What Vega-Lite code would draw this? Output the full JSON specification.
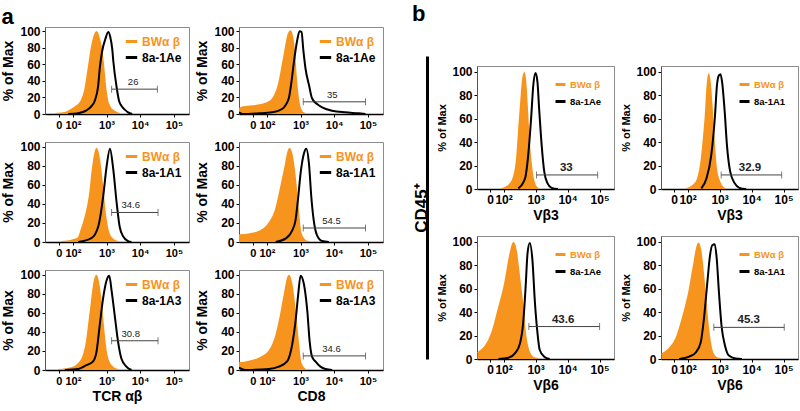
{
"$schema": "https://vega.github.io/schema/vega-lite/v6.json",
"background": "white",
"padding": {"left": 1, "top": 2, "right": 4, "bottom": 4},
"datasets": {
"hist": [
{"p":"a1","s":"BWα β","x":1.47,"y":0},{"p":"a1","s":"BWα β","x":1.76,"y":1.2},{"p":"a1","s":"BWα β","x":1.91,"y":4},{"p":"a1","s":"BWα β","x":2.1,"y":9},{"p":"a1","s":"BWα β","x":2.26,"y":16},{"p":"a1","s":"BWα β","x":2.36,"y":28},{"p":"a1","s":"BWα β","x":2.47,"y":56},{"p":"a1","s":"BWα β","x":2.57,"y":82},{"p":"a1","s":"BWα β","x":2.7,"y":99},{"p":"a1","s":"BWα β","x":2.78,"y":90},{"p":"a1","s":"BWα β","x":2.85,"y":76},{"p":"a1","s":"BWα β","x":2.9,"y":58},{"p":"a1","s":"BWα β","x":2.95,"y":36},{"p":"a1","s":"BWα β","x":3.02,"y":16},{"p":"a1","s":"BWα β","x":3.1,"y":8},{"p":"a1","s":"BWα β","x":3.23,"y":3},{"p":"a1","s":"BWα β","x":3.39,"y":0},
{"p":"a1","s":"8a-1Ae","x":1.86,"y":0},{"p":"a1","s":"8a-1Ae","x":2.16,"y":1},{"p":"a1","s":"8a-1Ae","x":2.39,"y":4},{"p":"a1","s":"8a-1Ae","x":2.54,"y":9},{"p":"a1","s":"8a-1Ae","x":2.65,"y":16},{"p":"a1","s":"8a-1Ae","x":2.75,"y":34},{"p":"a1","s":"8a-1Ae","x":2.8,"y":56},{"p":"a1","s":"8a-1Ae","x":2.87,"y":76},{"p":"a1","s":"8a-1Ae","x":2.96,"y":90},{"p":"a1","s":"8a-1Ae","x":3.05,"y":99},{"p":"a1","s":"8a-1Ae","x":3.11,"y":93},{"p":"a1","s":"8a-1Ae","x":3.17,"y":78},{"p":"a1","s":"8a-1Ae","x":3.2,"y":64},{"p":"a1","s":"8a-1Ae","x":3.3,"y":32},{"p":"a1","s":"8a-1Ae","x":3.37,"y":16},{"p":"a1","s":"8a-1Ae","x":3.44,"y":10},{"p":"a1","s":"8a-1Ae","x":3.55,"y":5},{"p":"a1","s":"8a-1Ae","x":3.64,"y":2},{"p":"a1","s":"8a-1Ae","x":3.76,"y":0},
{"p":"a2","s":"BWα β","x":1.17,"y":5.8},{"p":"a2","s":"BWα β","x":1.27,"y":7.8},{"p":"a2","s":"BWα β","x":1.66,"y":9.7},{"p":"a2","s":"BWα β","x":1.96,"y":12.4},{"p":"a2","s":"BWα β","x":2.16,"y":17.4},{"p":"a2","s":"BWα β","x":2.35,"y":35},{"p":"a2","s":"BWα β","x":2.5,"y":66},{"p":"a2","s":"BWα β","x":2.65,"y":97},{"p":"a2","s":"BWα β","x":2.7,"y":100},{"p":"a2","s":"BWα β","x":2.8,"y":78},{"p":"a2","s":"BWα β","x":2.87,"y":39},{"p":"a2","s":"BWα β","x":2.95,"y":12},{"p":"a2","s":"BWα β","x":3.05,"y":2},{"p":"a2","s":"BWα β","x":3.15,"y":0},
{"p":"a2","s":"8a-1Ae","x":1.17,"y":2},{"p":"a2","s":"8a-1Ae","x":1.27,"y":0},{"p":"a2","s":"8a-1Ae","x":1.76,"y":0.8},{"p":"a2","s":"8a-1Ae","x":2.16,"y":2},{"p":"a2","s":"8a-1Ae","x":2.45,"y":6},{"p":"a2","s":"8a-1Ae","x":2.65,"y":19},{"p":"a2","s":"8a-1Ae","x":2.73,"y":39},{"p":"a2","s":"8a-1Ae","x":2.8,"y":62},{"p":"a2","s":"8a-1Ae","x":2.9,"y":89},{"p":"a2","s":"8a-1Ae","x":2.97,"y":100},{"p":"a2","s":"8a-1Ae","x":3.03,"y":99},{"p":"a2","s":"8a-1Ae","x":3.08,"y":78},{"p":"a2","s":"8a-1Ae","x":3.15,"y":54},{"p":"a2","s":"8a-1Ae","x":3.25,"y":35},{"p":"a2","s":"8a-1Ae","x":3.34,"y":19},{"p":"a2","s":"8a-1Ae","x":3.49,"y":12},{"p":"a2","s":"8a-1Ae","x":3.64,"y":8},{"p":"a2","s":"8a-1Ae","x":3.94,"y":4},{"p":"a2","s":"8a-1Ae","x":4.33,"y":2},{"p":"a2","s":"8a-1Ae","x":4.73,"y":0.8},{"p":"a2","s":"8a-1Ae","x":4.93,"y":0},
{"p":"a3","s":"BWα β","x":1.66,"y":0},{"p":"a3","s":"BWα β","x":1.96,"y":1.4},{"p":"a3","s":"BWα β","x":2.16,"y":4},{"p":"a3","s":"BWα β","x":2.26,"y":13},{"p":"a3","s":"BWα β","x":2.38,"y":27},{"p":"a3","s":"BWα β","x":2.5,"y":48},{"p":"a3","s":"BWα β","x":2.6,"y":79},{"p":"a3","s":"BWα β","x":2.7,"y":98},{"p":"a3","s":"BWα β","x":2.78,"y":86},{"p":"a3","s":"BWα β","x":2.85,"y":65},{"p":"a3","s":"BWα β","x":2.95,"y":30},{"p":"a3","s":"BWα β","x":3.03,"y":13},{"p":"a3","s":"BWα β","x":3.1,"y":6},{"p":"a3","s":"BWα β","x":3.2,"y":2},{"p":"a3","s":"BWα β","x":3.34,"y":0},
{"p":"a3","s":"8a-1A1","x":2.16,"y":0},{"p":"a3","s":"8a-1A1","x":2.55,"y":4},{"p":"a3","s":"8a-1A1","x":2.75,"y":16},{"p":"a3","s":"8a-1A1","x":2.9,"y":48},{"p":"a3","s":"8a-1A1","x":3.0,"y":79},{"p":"a3","s":"8a-1A1","x":3.1,"y":98},{"p":"a3","s":"8a-1A1","x":3.2,"y":76},{"p":"a3","s":"8a-1A1","x":3.3,"y":41},{"p":"a3","s":"8a-1A1","x":3.39,"y":16},{"p":"a3","s":"8a-1A1","x":3.49,"y":6},{"p":"a3","s":"8a-1A1","x":3.64,"y":1},{"p":"a3","s":"8a-1A1","x":3.74,"y":0},
{"p":"a4","s":"BWα β","x":1.17,"y":7},{"p":"a4","s":"BWα β","x":1.46,"y":8},{"p":"a4","s":"BWα β","x":1.76,"y":10.5},{"p":"a4","s":"BWα β","x":2.06,"y":19},{"p":"a4","s":"BWα β","x":2.26,"y":33},{"p":"a4","s":"BWα β","x":2.4,"y":54},{"p":"a4","s":"BWα β","x":2.55,"y":79},{"p":"a4","s":"BWα β","x":2.67,"y":98},{"p":"a4","s":"BWα β","x":2.75,"y":89},{"p":"a4","s":"BWα β","x":2.85,"y":61},{"p":"a4","s":"BWα β","x":2.93,"y":30},{"p":"a4","s":"BWα β","x":3.0,"y":9},{"p":"a4","s":"BWα β","x":3.15,"y":1},{"p":"a4","s":"BWα β","x":3.25,"y":0},
{"p":"a4","s":"8a-1A1","x":2.26,"y":0},{"p":"a4","s":"8a-1A1","x":2.55,"y":3.5},{"p":"a4","s":"8a-1A1","x":2.75,"y":12},{"p":"a4","s":"8a-1A1","x":2.85,"y":23},{"p":"a4","s":"8a-1A1","x":2.93,"y":47},{"p":"a4","s":"8a-1A1","x":3.0,"y":72},{"p":"a4","s":"8a-1A1","x":3.1,"y":93},{"p":"a4","s":"8a-1A1","x":3.17,"y":98},{"p":"a4","s":"8a-1A1","x":3.25,"y":82},{"p":"a4","s":"8a-1A1","x":3.32,"y":47},{"p":"a4","s":"8a-1A1","x":3.39,"y":23},{"p":"a4","s":"8a-1A1","x":3.49,"y":7},{"p":"a4","s":"8a-1A1","x":3.64,"y":1},{"p":"a4","s":"8a-1A1","x":3.84,"y":0},
{"p":"a5","s":"BWα β","x":1.56,"y":0},{"p":"a5","s":"BWα β","x":1.96,"y":2},{"p":"a5","s":"BWα β","x":2.26,"y":10.6},{"p":"a5","s":"BWα β","x":2.4,"y":26.5},{"p":"a5","s":"BWα β","x":2.53,"y":62},{"p":"a5","s":"BWα β","x":2.65,"y":94},{"p":"a5","s":"BWα β","x":2.7,"y":99},{"p":"a5","s":"BWα β","x":2.8,"y":79.5},{"p":"a5","s":"BWα β","x":2.87,"y":55},{"p":"a5","s":"BWα β","x":2.95,"y":26.5},{"p":"a5","s":"BWα β","x":3.05,"y":9},{"p":"a5","s":"BWα β","x":3.2,"y":2},{"p":"a5","s":"BWα β","x":3.34,"y":0},
{"p":"a5","s":"8a-1A3","x":1.76,"y":0},{"p":"a5","s":"8a-1A3","x":2.16,"y":1},{"p":"a5","s":"8a-1A3","x":2.4,"y":5},{"p":"a5","s":"8a-1A3","x":2.6,"y":9},{"p":"a5","s":"8a-1A3","x":2.7,"y":19},{"p":"a5","s":"8a-1A3","x":2.8,"y":48},{"p":"a5","s":"8a-1A3","x":2.9,"y":76},{"p":"a5","s":"8a-1A3","x":3.0,"y":94},{"p":"a5","s":"8a-1A3","x":3.08,"y":99},{"p":"a5","s":"8a-1A3","x":3.15,"y":83},{"p":"a5","s":"8a-1A3","x":3.25,"y":55},{"p":"a5","s":"8a-1A3","x":3.34,"y":30},{"p":"a5","s":"8a-1A3","x":3.44,"y":12},{"p":"a5","s":"8a-1A3","x":3.59,"y":3.5},{"p":"a5","s":"8a-1A3","x":3.74,"y":0},
{"p":"a6","s":"BWα β","x":1.17,"y":7},{"p":"a6","s":"BWα β","x":1.76,"y":12},{"p":"a6","s":"BWα β","x":2.06,"y":19},{"p":"a6","s":"BWα β","x":2.26,"y":34},{"p":"a6","s":"BWα β","x":2.4,"y":55},{"p":"a6","s":"BWα β","x":2.53,"y":79.5},{"p":"a6","s":"BWα β","x":2.65,"y":99},{"p":"a6","s":"BWα β","x":2.73,"y":90},{"p":"a6","s":"BWα β","x":2.83,"y":62},{"p":"a6","s":"BWα β","x":2.93,"y":26.5},{"p":"a6","s":"BWα β","x":3.0,"y":7},{"p":"a6","s":"BWα β","x":3.15,"y":0},
{"p":"a6","s":"8a-1A3","x":1.17,"y":2.5},{"p":"a6","s":"8a-1A3","x":1.36,"y":0},{"p":"a6","s":"8a-1A3","x":2.06,"y":1},{"p":"a6","s":"8a-1A3","x":2.35,"y":3.5},{"p":"a6","s":"8a-1A3","x":2.6,"y":9},{"p":"a6","s":"8a-1A3","x":2.75,"y":26.5},{"p":"a6","s":"8a-1A3","x":2.85,"y":51},{"p":"a6","s":"8a-1A3","x":2.93,"y":79.5},{"p":"a6","s":"8a-1A3","x":3.0,"y":99},{"p":"a6","s":"8a-1A3","x":3.1,"y":90},{"p":"a6","s":"8a-1A3","x":3.2,"y":62},{"p":"a6","s":"8a-1A3","x":3.27,"y":30},{"p":"a6","s":"8a-1A3","x":3.34,"y":14},{"p":"a6","s":"8a-1A3","x":3.44,"y":9},{"p":"a6","s":"8a-1A3","x":3.59,"y":3.5},{"p":"a6","s":"8a-1A3","x":3.74,"y":1},{"p":"a6","s":"8a-1A3","x":3.94,"y":0},
{"p":"b1","s":"BWα β","x":1.95,"y":0},{"p":"b1","s":"BWα β","x":2.05,"y":1},{"p":"b1","s":"BWα β","x":2.26,"y":6},{"p":"b1","s":"BWα β","x":2.41,"y":23},{"p":"b1","s":"BWα β","x":2.51,"y":60},{"p":"b1","s":"BWα β","x":2.65,"y":99},{"p":"b1","s":"BWα β","x":2.72,"y":74},{"p":"b1","s":"BWα β","x":2.79,"y":40},{"p":"b1","s":"BWα β","x":2.88,"y":15},{"p":"b1","s":"BWα β","x":2.98,"y":3},{"p":"b1","s":"BWα β","x":3.08,"y":0},
{"p":"b1","s":"8a-1Ae","x":2.46,"y":0.5},{"p":"b1","s":"8a-1Ae","x":2.67,"y":9},{"p":"b1","s":"8a-1Ae","x":2.77,"y":29},{"p":"b1","s":"8a-1Ae","x":2.86,"y":60},{"p":"b1","s":"8a-1Ae","x":2.93,"y":89},{"p":"b1","s":"8a-1Ae","x":3.0,"y":99},{"p":"b1","s":"8a-1Ae","x":3.06,"y":91},{"p":"b1","s":"8a-1Ae","x":3.11,"y":69},{"p":"b1","s":"8a-1Ae","x":3.19,"y":37.5},{"p":"b1","s":"8a-1Ae","x":3.27,"y":15},{"p":"b1","s":"8a-1Ae","x":3.37,"y":5},{"p":"b1","s":"8a-1Ae","x":3.5,"y":1},{"p":"b1","s":"8a-1Ae","x":3.7,"y":0},
{"p":"b2","s":"BWα β","x":1.97,"y":0},{"p":"b2","s":"BWα β","x":2.07,"y":1},{"p":"b2","s":"BWα β","x":2.28,"y":6},{"p":"b2","s":"BWα β","x":2.43,"y":23},{"p":"b2","s":"BWα β","x":2.56,"y":60},{"p":"b2","s":"BWα β","x":2.66,"y":98},{"p":"b2","s":"BWα β","x":2.74,"y":75},{"p":"b2","s":"BWα β","x":2.82,"y":40},{"p":"b2","s":"BWα β","x":2.9,"y":15},{"p":"b2","s":"BWα β","x":3.05,"y":3},{"p":"b2","s":"BWα β","x":3.16,"y":0},
{"p":"b2","s":"8a-1A1","x":2.43,"y":0.5},{"p":"b2","s":"8a-1A1","x":2.59,"y":9},{"p":"b2","s":"8a-1A1","x":2.74,"y":29},{"p":"b2","s":"8a-1A1","x":2.85,"y":60},{"p":"b2","s":"8a-1A1","x":2.92,"y":89},{"p":"b2","s":"8a-1A1","x":2.98,"y":97},{"p":"b2","s":"8a-1A1","x":3.03,"y":98},{"p":"b2","s":"8a-1A1","x":3.08,"y":91},{"p":"b2","s":"8a-1A1","x":3.16,"y":66},{"p":"b2","s":"8a-1A1","x":3.23,"y":37.5},{"p":"b2","s":"8a-1A1","x":3.33,"y":15},{"p":"b2","s":"8a-1A1","x":3.47,"y":5},{"p":"b2","s":"8a-1A1","x":3.62,"y":1},{"p":"b2","s":"8a-1A1","x":3.83,"y":0},
{"p":"b3","s":"BWα β","x":1.19,"y":5},{"p":"b3","s":"BWα β","x":1.43,"y":10.6},{"p":"b3","s":"BWα β","x":1.64,"y":22},{"p":"b3","s":"BWα β","x":1.84,"y":42},{"p":"b3","s":"BWα β","x":2.05,"y":65},{"p":"b3","s":"BWα β","x":2.2,"y":88},{"p":"b3","s":"BWα β","x":2.31,"y":99},{"p":"b3","s":"BWα β","x":2.38,"y":93},{"p":"b3","s":"BWα β","x":2.46,"y":76},{"p":"b3","s":"BWα β","x":2.57,"y":50.6},{"p":"b3","s":"BWα β","x":2.67,"y":22},{"p":"b3","s":"BWα β","x":2.77,"y":7.7},{"p":"b3","s":"BWα β","x":2.93,"y":1},{"p":"b3","s":"BWα β","x":3.08,"y":0},
{"p":"b3","s":"8a-1Ae","x":1.84,"y":0},{"p":"b3","s":"8a-1Ae","x":2.15,"y":1},{"p":"b3","s":"8a-1Ae","x":2.36,"y":5},{"p":"b3","s":"8a-1Ae","x":2.51,"y":13},{"p":"b3","s":"8a-1Ae","x":2.62,"y":33},{"p":"b3","s":"8a-1Ae","x":2.69,"y":62},{"p":"b3","s":"8a-1Ae","x":2.75,"y":90.6},{"p":"b3","s":"8a-1Ae","x":2.82,"y":99},{"p":"b3","s":"8a-1Ae","x":2.9,"y":85},{"p":"b3","s":"8a-1Ae","x":2.98,"y":48},{"p":"b3","s":"8a-1Ae","x":3.06,"y":22},{"p":"b3","s":"8a-1Ae","x":3.13,"y":7.7},{"p":"b3","s":"8a-1Ae","x":3.27,"y":2},{"p":"b3","s":"8a-1Ae","x":3.44,"y":0},
{"p":"b4","s":"BWα β","x":1.19,"y":4},{"p":"b4","s":"BWα β","x":1.43,"y":8.6},{"p":"b4","s":"BWα β","x":1.64,"y":17},{"p":"b4","s":"BWα β","x":1.84,"y":34},{"p":"b4","s":"BWα β","x":2.05,"y":57},{"p":"b4","s":"BWα β","x":2.2,"y":80},{"p":"b4","s":"BWα β","x":2.34,"y":98.6},{"p":"b4","s":"BWα β","x":2.41,"y":91},{"p":"b4","s":"BWα β","x":2.48,"y":74},{"p":"b4","s":"BWα β","x":2.57,"y":46},{"p":"b4","s":"BWα β","x":2.67,"y":20},{"p":"b4","s":"BWα β","x":2.77,"y":5.7},{"p":"b4","s":"BWα β","x":2.93,"y":0.5},{"p":"b4","s":"BWα β","x":3.03,"y":0},
{"p":"b4","s":"8a-1A1","x":1.74,"y":0},{"p":"b4","s":"8a-1A1","x":2.05,"y":2},{"p":"b4","s":"8a-1A1","x":2.26,"y":5.7},{"p":"b4","s":"8a-1A1","x":2.41,"y":14},{"p":"b4","s":"8a-1A1","x":2.51,"y":34},{"p":"b4","s":"8a-1A1","x":2.62,"y":66},{"p":"b4","s":"8a-1A1","x":2.69,"y":86},{"p":"b4","s":"8a-1A1","x":2.77,"y":97},{"p":"b4","s":"8a-1A1","x":2.85,"y":98},{"p":"b4","s":"8a-1A1","x":2.91,"y":86},{"p":"b4","s":"8a-1A1","x":2.98,"y":57},{"p":"b4","s":"8a-1A1","x":3.06,"y":28.6},{"p":"b4","s":"8a-1A1","x":3.17,"y":11.4},{"p":"b4","s":"8a-1A1","x":3.29,"y":3},{"p":"b4","s":"8a-1A1","x":3.5,"y":0.5},{"p":"b4","s":"8a-1A1","x":3.7,"y":0}
],
"gates": [
{"p":"a1","x":3.15,"x2":4.51,"y":30,"lx":3.79,"lab":"26"},
{"p":"a2","x":3.08,"x2":4.93,"y":14.7,"lx":3.94,"lab":"35"},
{"p":"a3","x":3.15,"x2":4.53,"y":31,"lx":3.72,"lab":"34.6"},
{"p":"a4","x":3.08,"x2":4.93,"y":14.7,"lx":3.92,"lab":"54.5"},
{"p":"a5","x":3.15,"x2":4.53,"y":30.7,"lx":3.72,"lab":"30.8"},
{"p":"a6","x":3.08,"x2":4.93,"y":14.8,"lx":3.92,"lab":"34.6"},
{"p":"b1","x":3.03,"x2":4.94,"y":12,"lx":3.96,"lab":"33"},
{"p":"b2","x":3.05,"x2":4.94,"y":12,"lx":3.95,"lab":"32.9"},
{"p":"b3","x":2.79,"x2":5.0,"y":27.7,"lx":3.86,"lab":"43.6"},
{"p":"b4","x":2.82,"x2":5.02,"y":27,"lx":3.91,"lab":"45.3"}
]
},
"hconcat": [
{
"title": {"text": "a", "anchor": "start", "frame": "bounds", "fontSize": 22, "fontWeight": "bold", "offset": -4},
"spacing": 9,
"resolve": {"scale": {"stroke": "independent"}, "legend": {"stroke": "independent"}},
"vconcat": [
{"spacing": 5, "resolve": {"scale": {"stroke": "independent"}, "legend": {"stroke": "independent"}}, "hconcat": [
{"width": 144, "height": 87,
"encoding": {"x": {"field": "x", "type": "quantitative", "scale": {"domain": [1.17, 5.45], "nice": false, "zero": false}, "axis": {"title": null, "values": [1.58, 2, 3, 4, 5], "labelOverlap": false}}, "y": {"field": "y", "type": "quantitative", "scale": {"domain": [0, 105], "nice": false}, "axis": {"title": "% of Max", "values": [0, 20, 40, 60, 80, 100]}}},
"layer": [
{"data": {"name": "hist"}, "transform": [{"filter": "datum.p == 'a1' && datum.s == 'BWα β'"}], "mark": {"type": "area", "color": "#F7941D", "interpolate": "monotone", "clip": true}},
{"data": {"name": "hist"}, "transform": [{"filter": "datum.p == 'a1'"}], "mark": {"type": "line", "strokeWidth": 2, "interpolate": "monotone", "clip": true}, "encoding": {"stroke": {"field": "s", "type": "nominal", "scale": {"domain": ["BWα β", "8a-1Ae"], "range": ["#F7941D", "#000000"]}, "legend": {"title": null, "offset": 7, "labelFontSize": 12, "encode": {"labels": {"update": {"fill": {"signal": "datum.label == 'BWα β' ? '#F7941D' : '#000000'"}}}}}}}},
{"data": {"name": "gates"}, "transform": [{"filter": "datum.p == 'a1'"}], "mark": {"type": "rule", "color": "#444444", "strokeWidth": 1}, "encoding": {"x2": {"field": "x2"}}},
{"data": {"name": "gates"}, "transform": [{"filter": "datum.p == 'a1'"}], "mark": {"type": "tick", "orient": "vertical", "color": "#444444", "thickness": 1, "size": 7}},
{"data": {"name": "gates"}, "transform": [{"filter": "datum.p == 'a1'"}], "mark": {"type": "tick", "orient": "vertical", "color": "#444444", "thickness": 1, "size": 7}, "encoding": {"x": {"field": "x2", "type": "quantitative"}}},
{"data": {"name": "gates"}, "transform": [{"filter": "datum.p == 'a1'"}], "mark": {"type": "text", "baseline": "bottom", "dy": -2, "fontSize": 9.5, "color": "#222222"}, "encoding": {"x": {"field": "lx", "type": "quantitative"}, "text": {"field": "lab", "type": "nominal"}}}
]},
{"width": 144, "height": 87,
"encoding": {"x": {"field": "x", "type": "quantitative", "scale": {"domain": [1.17, 5.45], "nice": false, "zero": false}, "axis": {"title": null, "values": [1.58, 2, 3, 4, 5], "labelOverlap": false}}, "y": {"field": "y", "type": "quantitative", "scale": {"domain": [0, 105], "nice": false}, "axis": {"title": "% of Max", "values": [0, 20, 40, 60, 80, 100]}}},
"layer": [
{"data": {"name": "hist"}, "transform": [{"filter": "datum.p == 'a2' && datum.s == 'BWα β'"}], "mark": {"type": "area", "color": "#F7941D", "interpolate": "monotone", "clip": true}},
{"data": {"name": "hist"}, "transform": [{"filter": "datum.p == 'a2'"}], "mark": {"type": "line", "strokeWidth": 2, "interpolate": "monotone", "clip": true}, "encoding": {"stroke": {"field": "s", "type": "nominal", "scale": {"domain": ["BWα β", "8a-1Ae"], "range": ["#F7941D", "#000000"]}, "legend": {"title": null, "offset": 7, "labelFontSize": 12, "encode": {"labels": {"update": {"fill": {"signal": "datum.label == 'BWα β' ? '#F7941D' : '#000000'"}}}}}}}},
{"data": {"name": "gates"}, "transform": [{"filter": "datum.p == 'a2'"}], "mark": {"type": "rule", "color": "#444444", "strokeWidth": 1}, "encoding": {"x2": {"field": "x2"}}},
{"data": {"name": "gates"}, "transform": [{"filter": "datum.p == 'a2'"}], "mark": {"type": "tick", "orient": "vertical", "color": "#444444", "thickness": 1, "size": 7}},
{"data": {"name": "gates"}, "transform": [{"filter": "datum.p == 'a2'"}], "mark": {"type": "tick", "orient": "vertical", "color": "#444444", "thickness": 1, "size": 7}, "encoding": {"x": {"field": "x2", "type": "quantitative"}}},
{"data": {"name": "gates"}, "transform": [{"filter": "datum.p == 'a2'"}], "mark": {"type": "text", "baseline": "bottom", "dy": -2, "fontSize": 9.5, "color": "#222222"}, "encoding": {"x": {"field": "lx", "type": "quantitative"}, "text": {"field": "lab", "type": "nominal"}}}
]}
]},
{"spacing": 5, "resolve": {"scale": {"stroke": "independent"}, "legend": {"stroke": "independent"}}, "hconcat": [
{"width": 144, "height": 100,
"encoding": {"x": {"field": "x", "type": "quantitative", "scale": {"domain": [1.17, 5.45], "nice": false, "zero": false}, "axis": {"title": null, "values": [1.58, 2, 3, 4, 5], "labelOverlap": false}}, "y": {"field": "y", "type": "quantitative", "scale": {"domain": [0, 105], "nice": false}, "axis": {"title": "% of Max", "values": [0, 20, 40, 60, 80, 100]}}},
"layer": [
{"data": {"name": "hist"}, "transform": [{"filter": "datum.p == 'a3' && datum.s == 'BWα β'"}], "mark": {"type": "area", "color": "#F7941D", "interpolate": "monotone", "clip": true}},
{"data": {"name": "hist"}, "transform": [{"filter": "datum.p == 'a3'"}], "mark": {"type": "line", "strokeWidth": 2, "interpolate": "monotone", "clip": true}, "encoding": {"stroke": {"field": "s", "type": "nominal", "scale": {"domain": ["BWα β", "8a-1A1"], "range": ["#F7941D", "#000000"]}, "legend": {"title": null, "offset": 7, "labelFontSize": 12, "encode": {"labels": {"update": {"fill": {"signal": "datum.label == 'BWα β' ? '#F7941D' : '#000000'"}}}}}}}},
{"data": {"name": "gates"}, "transform": [{"filter": "datum.p == 'a3'"}], "mark": {"type": "rule", "color": "#444444", "strokeWidth": 1}, "encoding": {"x2": {"field": "x2"}}},
{"data": {"name": "gates"}, "transform": [{"filter": "datum.p == 'a3'"}], "mark": {"type": "tick", "orient": "vertical", "color": "#444444", "thickness": 1, "size": 7}},
{"data": {"name": "gates"}, "transform": [{"filter": "datum.p == 'a3'"}], "mark": {"type": "tick", "orient": "vertical", "color": "#444444", "thickness": 1, "size": 7}, "encoding": {"x": {"field": "x2", "type": "quantitative"}}},
{"data": {"name": "gates"}, "transform": [{"filter": "datum.p == 'a3'"}], "mark": {"type": "text", "baseline": "bottom", "dy": -2, "fontSize": 9.5, "color": "#222222"}, "encoding": {"x": {"field": "lx", "type": "quantitative"}, "text": {"field": "lab", "type": "nominal"}}}
]},
{"width": 144, "height": 100,
"encoding": {"x": {"field": "x", "type": "quantitative", "scale": {"domain": [1.17, 5.45], "nice": false, "zero": false}, "axis": {"title": null, "values": [1.58, 2, 3, 4, 5], "labelOverlap": false}}, "y": {"field": "y", "type": "quantitative", "scale": {"domain": [0, 105], "nice": false}, "axis": {"title": "% of Max", "values": [0, 20, 40, 60, 80, 100]}}},
"layer": [
{"data": {"name": "hist"}, "transform": [{"filter": "datum.p == 'a4' && datum.s == 'BWα β'"}], "mark": {"type": "area", "color": "#F7941D", "interpolate": "monotone", "clip": true}},
{"data": {"name": "hist"}, "transform": [{"filter": "datum.p == 'a4'"}], "mark": {"type": "line", "strokeWidth": 2, "interpolate": "monotone", "clip": true}, "encoding": {"stroke": {"field": "s", "type": "nominal", "scale": {"domain": ["BWα β", "8a-1A1"], "range": ["#F7941D", "#000000"]}, "legend": {"title": null, "offset": 7, "labelFontSize": 12, "encode": {"labels": {"update": {"fill": {"signal": "datum.label == 'BWα β' ? '#F7941D' : '#000000'"}}}}}}}},
{"data": {"name": "gates"}, "transform": [{"filter": "datum.p == 'a4'"}], "mark": {"type": "rule", "color": "#444444", "strokeWidth": 1}, "encoding": {"x2": {"field": "x2"}}},
{"data": {"name": "gates"}, "transform": [{"filter": "datum.p == 'a4'"}], "mark": {"type": "tick", "orient": "vertical", "color": "#444444", "thickness": 1, "size": 7}},
{"data": {"name": "gates"}, "transform": [{"filter": "datum.p == 'a4'"}], "mark": {"type": "tick", "orient": "vertical", "color": "#444444", "thickness": 1, "size": 7}, "encoding": {"x": {"field": "x2", "type": "quantitative"}}},
{"data": {"name": "gates"}, "transform": [{"filter": "datum.p == 'a4'"}], "mark": {"type": "text", "baseline": "bottom", "dy": -2, "fontSize": 9.5, "color": "#222222"}, "encoding": {"x": {"field": "lx", "type": "quantitative"}, "text": {"field": "lab", "type": "nominal"}}}
]}
]},
{"spacing": 5, "resolve": {"scale": {"stroke": "independent"}, "legend": {"stroke": "independent"}}, "hconcat": [
{"width": 144, "height": 100,
"encoding": {"x": {"field": "x", "type": "quantitative", "scale": {"domain": [1.17, 5.45], "nice": false, "zero": false}, "axis": {"title": "TCR αβ", "values": [1.58, 2, 3, 4, 5], "labelOverlap": false}}, "y": {"field": "y", "type": "quantitative", "scale": {"domain": [0, 105], "nice": false}, "axis": {"title": "% of Max", "values": [0, 20, 40, 60, 80, 100]}}},
"layer": [
{"data": {"name": "hist"}, "transform": [{"filter": "datum.p == 'a5' && datum.s == 'BWα β'"}], "mark": {"type": "area", "color": "#F7941D", "interpolate": "monotone", "clip": true}},
{"data": {"name": "hist"}, "transform": [{"filter": "datum.p == 'a5'"}], "mark": {"type": "line", "strokeWidth": 2, "interpolate": "monotone", "clip": true}, "encoding": {"stroke": {"field": "s", "type": "nominal", "scale": {"domain": ["BWα β", "8a-1A3"], "range": ["#F7941D", "#000000"]}, "legend": {"title": null, "offset": 7, "labelFontSize": 12, "encode": {"labels": {"update": {"fill": {"signal": "datum.label == 'BWα β' ? '#F7941D' : '#000000'"}}}}}}}},
{"data": {"name": "gates"}, "transform": [{"filter": "datum.p == 'a5'"}], "mark": {"type": "rule", "color": "#444444", "strokeWidth": 1}, "encoding": {"x2": {"field": "x2"}}},
{"data": {"name": "gates"}, "transform": [{"filter": "datum.p == 'a5'"}], "mark": {"type": "tick", "orient": "vertical", "color": "#444444", "thickness": 1, "size": 7}},
{"data": {"name": "gates"}, "transform": [{"filter": "datum.p == 'a5'"}], "mark": {"type": "tick", "orient": "vertical", "color": "#444444", "thickness": 1, "size": 7}, "encoding": {"x": {"field": "x2", "type": "quantitative"}}},
{"data": {"name": "gates"}, "transform": [{"filter": "datum.p == 'a5'"}], "mark": {"type": "text", "baseline": "bottom", "dy": -2, "fontSize": 9.5, "color": "#222222"}, "encoding": {"x": {"field": "lx", "type": "quantitative"}, "text": {"field": "lab", "type": "nominal"}}}
]},
{"width": 144, "height": 100,
"encoding": {"x": {"field": "x", "type": "quantitative", "scale": {"domain": [1.17, 5.45], "nice": false, "zero": false}, "axis": {"title": "CD8", "values": [1.58, 2, 3, 4, 5], "labelOverlap": false}}, "y": {"field": "y", "type": "quantitative", "scale": {"domain": [0, 105], "nice": false}, "axis": {"title": "% of Max", "values": [0, 20, 40, 60, 80, 100]}}},
"layer": [
{"data": {"name": "hist"}, "transform": [{"filter": "datum.p == 'a6' && datum.s == 'BWα β'"}], "mark": {"type": "area", "color": "#F7941D", "interpolate": "monotone", "clip": true}},
{"data": {"name": "hist"}, "transform": [{"filter": "datum.p == 'a6'"}], "mark": {"type": "line", "strokeWidth": 2, "interpolate": "monotone", "clip": true}, "encoding": {"stroke": {"field": "s", "type": "nominal", "scale": {"domain": ["BWα β", "8a-1A3"], "range": ["#F7941D", "#000000"]}, "legend": {"title": null, "offset": 7, "labelFontSize": 12, "encode": {"labels": {"update": {"fill": {"signal": "datum.label == 'BWα β' ? '#F7941D' : '#000000'"}}}}}}}},
{"data": {"name": "gates"}, "transform": [{"filter": "datum.p == 'a6'"}], "mark": {"type": "rule", "color": "#444444", "strokeWidth": 1}, "encoding": {"x2": {"field": "x2"}}},
{"data": {"name": "gates"}, "transform": [{"filter": "datum.p == 'a6'"}], "mark": {"type": "tick", "orient": "vertical", "color": "#444444", "thickness": 1, "size": 7}},
{"data": {"name": "gates"}, "transform": [{"filter": "datum.p == 'a6'"}], "mark": {"type": "tick", "orient": "vertical", "color": "#444444", "thickness": 1, "size": 7}, "encoding": {"x": {"field": "x2", "type": "quantitative"}}},
{"data": {"name": "gates"}, "transform": [{"filter": "datum.p == 'a6'"}], "mark": {"type": "text", "baseline": "bottom", "dy": -2, "fontSize": 9.5, "color": "#222222"}, "encoding": {"x": {"field": "lx", "type": "quantitative"}, "text": {"field": "lab", "type": "nominal"}}}
]}
]}
]
},
{
"title": {"text": "b", "anchor": "start", "frame": "bounds", "fontSize": 22, "fontWeight": "bold", "offset": -4},
"spacing": 17,
"resolve": {"scale": {"stroke": "independent"}, "legend": {"stroke": "independent"}},
"vconcat": [
{"width": 1, "height": 1, "view": {"stroke": null}, "data": {"values": [{}]}, "mark": {"type": "text", "text": ""}},
{
"spacing": 7,
"resolve": {"scale": {"stroke": "independent"}, "legend": {"stroke": "independent"}},
"hconcat": [
{"width": 1, "height": 303, "view": {"stroke": null}, "data": {"values": [{}]},
"mark": {"type": "rule", "opacity": 0},
"encoding": {"y": {"datum": 0, "type": "quantitative", "scale": {"domain": [0, 1]}, "axis": {"title": "CD45⁺", "titleFontSize": 17, "titleFontWeight": "bold", "domainColor": "#000000", "domainWidth": 3, "ticks": false, "labels": false, "grid": false, "titlePadding": -3, "values": []}}}},
{"spacing": 3, "resolve": {"scale": {"stroke": "independent"}, "legend": {"stroke": "independent"}}, "vconcat": [
{"width": 1, "height": 1, "view": {"stroke": null}, "data": {"values": [{}]}, "mark": {"type": "text", "text": ""}},
{"spacing": 12, "resolve": {"scale": {"stroke": "independent"}, "legend": {"stroke": "independent"}}, "vconcat": [
{"spacing": 5, "resolve": {"scale": {"stroke": "independent"}, "legend": {"stroke": "independent"}}, "hconcat": [
{"width": 137, "height": 123,
"encoding": {"x": {"field": "x", "type": "quantitative", "scale": {"domain": [1.17, 5.45], "nice": false, "zero": false}, "axis": {"title": "Vβ3", "labelFontSize": 12, "values": [1.58, 2, 3, 4, 5], "labelOverlap": false}}, "y": {"field": "y", "type": "quantitative", "scale": {"domain": [0, 105], "nice": false}, "axis": {"title": "% of Max", "titleFontSize": 11, "values": [0, 20, 40, 60, 80, 100]}}},
"layer": [
{"data": {"name": "hist"}, "transform": [{"filter": "datum.p == 'b1' && datum.s == 'BWα β'"}], "mark": {"type": "area", "color": "#F7941D", "interpolate": "monotone", "clip": true}},
{"data": {"name": "hist"}, "transform": [{"filter": "datum.p == 'b1'"}], "mark": {"type": "line", "strokeWidth": 2, "interpolate": "monotone", "clip": true}, "encoding": {"stroke": {"field": "s", "type": "nominal", "scale": {"domain": ["BWα β", "8a-1Ae"], "range": ["#F7941D", "#000000"]}, "legend": {"title": null, "offset": 12, "labelFontSize": 9.5, "symbolSize": 100, "rowPadding": 4, "encode": {"labels": {"update": {"fill": {"signal": "datum.label == 'BWα β' ? '#F7941D' : '#000000'"}}}}}}}},
{"data": {"name": "gates"}, "transform": [{"filter": "datum.p == 'b1'"}], "mark": {"type": "rule", "color": "#444444", "strokeWidth": 1}, "encoding": {"x2": {"field": "x2"}}},
{"data": {"name": "gates"}, "transform": [{"filter": "datum.p == 'b1'"}], "mark": {"type": "tick", "orient": "vertical", "color": "#444444", "thickness": 1, "size": 7}},
{"data": {"name": "gates"}, "transform": [{"filter": "datum.p == 'b1'"}], "mark": {"type": "tick", "orient": "vertical", "color": "#444444", "thickness": 1, "size": 7}, "encoding": {"x": {"field": "x2", "type": "quantitative"}}},
{"data": {"name": "gates"}, "transform": [{"filter": "datum.p == 'b1'"}], "mark": {"type": "text", "baseline": "bottom", "dy": -2, "fontSize": 11.5, "fontWeight": "bold", "color": "#222222"}, "encoding": {"x": {"field": "lx", "type": "quantitative"}, "text": {"field": "lab", "type": "nominal"}}}
]},
{"width": 137, "height": 123,
"encoding": {"x": {"field": "x", "type": "quantitative", "scale": {"domain": [1.17, 5.45], "nice": false, "zero": false}, "axis": {"title": "Vβ3", "labelFontSize": 12, "values": [1.58, 2, 3, 4, 5], "labelOverlap": false}}, "y": {"field": "y", "type": "quantitative", "scale": {"domain": [0, 105], "nice": false}, "axis": {"title": "% of Max", "titleFontSize": 11, "values": [0, 20, 40, 60, 80, 100]}}},
"layer": [
{"data": {"name": "hist"}, "transform": [{"filter": "datum.p == 'b2' && datum.s == 'BWα β'"}], "mark": {"type": "area", "color": "#F7941D", "interpolate": "monotone", "clip": true}},
{"data": {"name": "hist"}, "transform": [{"filter": "datum.p == 'b2'"}], "mark": {"type": "line", "strokeWidth": 2, "interpolate": "monotone", "clip": true}, "encoding": {"stroke": {"field": "s", "type": "nominal", "scale": {"domain": ["BWα β", "8a-1A1"], "range": ["#F7941D", "#000000"]}, "legend": {"title": null, "offset": 12, "labelFontSize": 9.5, "symbolSize": 100, "rowPadding": 4, "encode": {"labels": {"update": {"fill": {"signal": "datum.label == 'BWα β' ? '#F7941D' : '#000000'"}}}}}}}},
{"data": {"name": "gates"}, "transform": [{"filter": "datum.p == 'b2'"}], "mark": {"type": "rule", "color": "#444444", "strokeWidth": 1}, "encoding": {"x2": {"field": "x2"}}},
{"data": {"name": "gates"}, "transform": [{"filter": "datum.p == 'b2'"}], "mark": {"type": "tick", "orient": "vertical", "color": "#444444", "thickness": 1, "size": 7}},
{"data": {"name": "gates"}, "transform": [{"filter": "datum.p == 'b2'"}], "mark": {"type": "tick", "orient": "vertical", "color": "#444444", "thickness": 1, "size": 7}, "encoding": {"x": {"field": "x2", "type": "quantitative"}}},
{"data": {"name": "gates"}, "transform": [{"filter": "datum.p == 'b2'"}], "mark": {"type": "text", "baseline": "bottom", "dy": -2, "fontSize": 11.5, "fontWeight": "bold", "color": "#222222"}, "encoding": {"x": {"field": "lx", "type": "quantitative"}, "text": {"field": "lab", "type": "nominal"}}}
]}
]},
{"spacing": 5, "resolve": {"scale": {"stroke": "independent"}, "legend": {"stroke": "independent"}}, "hconcat": [
{"width": 137, "height": 123,
"encoding": {"x": {"field": "x", "type": "quantitative", "scale": {"domain": [1.17, 5.45], "nice": false, "zero": false}, "axis": {"title": "Vβ6", "labelFontSize": 12, "values": [1.58, 2, 3, 4, 5], "labelOverlap": false}}, "y": {"field": "y", "type": "quantitative", "scale": {"domain": [0, 105], "nice": false}, "axis": {"title": "% of Max", "titleFontSize": 11, "values": [0, 20, 40, 60, 80, 100]}}},
"layer": [
{"data": {"name": "hist"}, "transform": [{"filter": "datum.p == 'b3' && datum.s == 'BWα β'"}], "mark": {"type": "area", "color": "#F7941D", "interpolate": "monotone", "clip": true}},
{"data": {"name": "hist"}, "transform": [{"filter": "datum.p == 'b3'"}], "mark": {"type": "line", "strokeWidth": 2, "interpolate": "monotone", "clip": true}, "encoding": {"stroke": {"field": "s", "type": "nominal", "scale": {"domain": ["BWα β", "8a-1Ae"], "range": ["#F7941D", "#000000"]}, "legend": {"title": null, "offset": 12, "labelFontSize": 9.5, "symbolSize": 100, "rowPadding": 4, "encode": {"labels": {"update": {"fill": {"signal": "datum.label == 'BWα β' ? '#F7941D' : '#000000'"}}}}}}}},
{"data": {"name": "gates"}, "transform": [{"filter": "datum.p == 'b3'"}], "mark": {"type": "rule", "color": "#444444", "strokeWidth": 1}, "encoding": {"x2": {"field": "x2"}}},
{"data": {"name": "gates"}, "transform": [{"filter": "datum.p == 'b3'"}], "mark": {"type": "tick", "orient": "vertical", "color": "#444444", "thickness": 1, "size": 7}},
{"data": {"name": "gates"}, "transform": [{"filter": "datum.p == 'b3'"}], "mark": {"type": "tick", "orient": "vertical", "color": "#444444", "thickness": 1, "size": 7}, "encoding": {"x": {"field": "x2", "type": "quantitative"}}},
{"data": {"name": "gates"}, "transform": [{"filter": "datum.p == 'b3'"}], "mark": {"type": "text", "baseline": "bottom", "dy": -2, "fontSize": 11.5, "fontWeight": "bold", "color": "#222222"}, "encoding": {"x": {"field": "lx", "type": "quantitative"}, "text": {"field": "lab", "type": "nominal"}}}
]},
{"width": 137, "height": 123,
"encoding": {"x": {"field": "x", "type": "quantitative", "scale": {"domain": [1.17, 5.45], "nice": false, "zero": false}, "axis": {"title": "Vβ6", "labelFontSize": 12, "values": [1.58, 2, 3, 4, 5], "labelOverlap": false}}, "y": {"field": "y", "type": "quantitative", "scale": {"domain": [0, 105], "nice": false}, "axis": {"title": "% of Max", "titleFontSize": 11, "values": [0, 20, 40, 60, 80, 100]}}},
"layer": [
{"data": {"name": "hist"}, "transform": [{"filter": "datum.p == 'b4' && datum.s == 'BWα β'"}], "mark": {"type": "area", "color": "#F7941D", "interpolate": "monotone", "clip": true}},
{"data": {"name": "hist"}, "transform": [{"filter": "datum.p == 'b4'"}], "mark": {"type": "line", "strokeWidth": 2, "interpolate": "monotone", "clip": true}, "encoding": {"stroke": {"field": "s", "type": "nominal", "scale": {"domain": ["BWα β", "8a-1A1"], "range": ["#F7941D", "#000000"]}, "legend": {"title": null, "offset": 12, "labelFontSize": 9.5, "symbolSize": 100, "rowPadding": 4, "encode": {"labels": {"update": {"fill": {"signal": "datum.label == 'BWα β' ? '#F7941D' : '#000000'"}}}}}}}},
{"data": {"name": "gates"}, "transform": [{"filter": "datum.p == 'b4'"}], "mark": {"type": "rule", "color": "#444444", "strokeWidth": 1}, "encoding": {"x2": {"field": "x2"}}},
{"data": {"name": "gates"}, "transform": [{"filter": "datum.p == 'b4'"}], "mark": {"type": "tick", "orient": "vertical", "color": "#444444", "thickness": 1, "size": 7}},
{"data": {"name": "gates"}, "transform": [{"filter": "datum.p == 'b4'"}], "mark": {"type": "tick", "orient": "vertical", "color": "#444444", "thickness": 1, "size": 7}, "encoding": {"x": {"field": "x2", "type": "quantitative"}}},
{"data": {"name": "gates"}, "transform": [{"filter": "datum.p == 'b4'"}], "mark": {"type": "text", "baseline": "bottom", "dy": -2, "fontSize": 11.5, "fontWeight": "bold", "color": "#222222"}, "encoding": {"x": {"field": "lx", "type": "quantitative"}, "text": {"field": "lab", "type": "nominal"}}}
]}
]}
]}
]}
]
}
]
}
],
"spacing": 28,
"resolve": {"scale": {"stroke": "independent"}, "legend": {"stroke": "independent"}},
"config": {
"font": "Liberation Sans",
"view": {"stroke": "#8c8c8c", "strokeWidth": 1},
"title": {"font": "Liberation Sans", "color": "#000000"},
"axis": {"grid": false, "labelFont": "Liberation Sans", "labelFontWeight": "bold", "labelFontSize": 12, "labelColor": "#000000", "titleFont": "Liberation Sans", "titleFontWeight": "bold", "titleColor": "#000000", "tickColor": "#000000", "tickSize": 3, "labelPadding": 2, "domainColor": "#000000"},
"axisX": {"labelExpr": "datum.value < 1.9 ? '0' : datum.value == 2 ? '10²' : datum.value == 3 ? '10³' : datum.value == 4 ? '10⁴' : '10⁵'", "labelFlush": false, "labelFontSize": 11, "titleFontSize": 14, "domainWidth": 1.5, "titlePadding": 3},
"axisY": {"titleFontSize": 14, "titlePadding": 4, "domainColor": "#555555"},
"legend": {"orient": "top-right", "padding": 0, "symbolType": "stroke", "symbolStrokeWidth": 3, "symbolSize": 130, "labelFont": "Liberation Sans", "labelFontWeight": "bold", "labelOffset": 3, "rowPadding": 2}
}
}
